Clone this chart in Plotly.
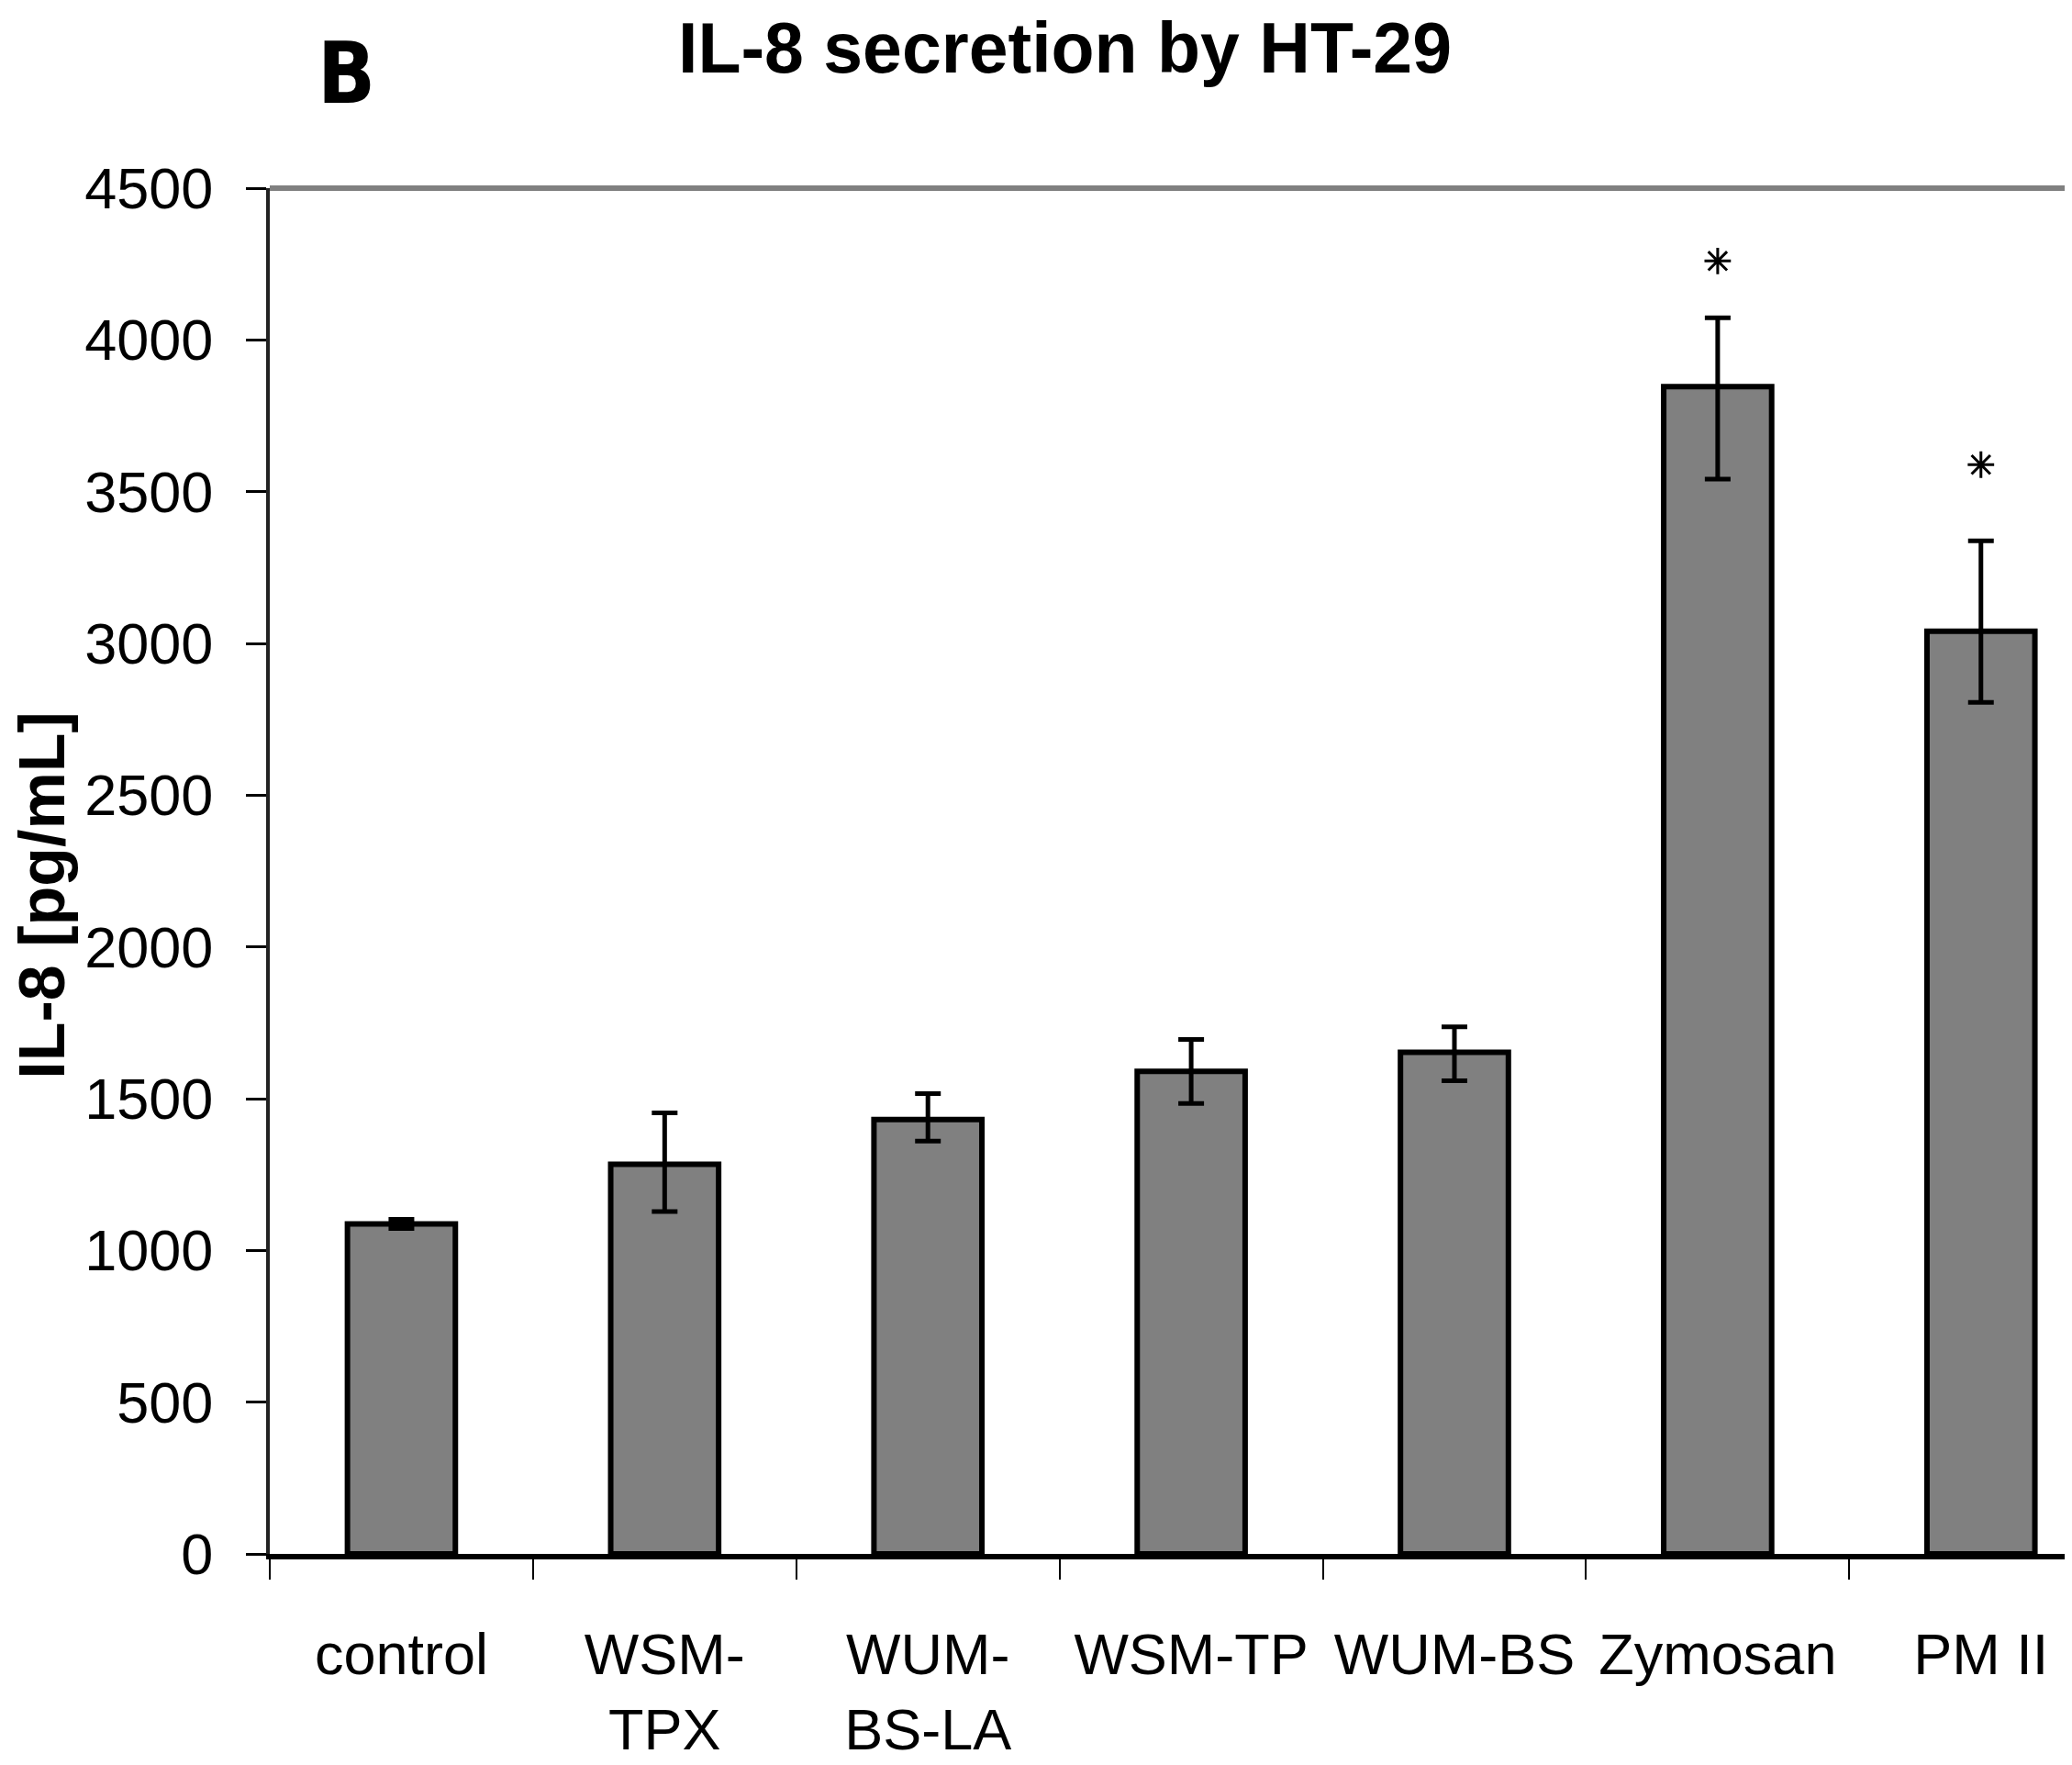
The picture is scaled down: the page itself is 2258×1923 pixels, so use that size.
import plotly.graph_objects as go

categories = ["control", "WSM-<br>TPX", "WUM-<br>BS-LA", "WSM-TP", "WUM-BS", "Zymosan", "PM II"]
means = [1087, 1284, 1431, 1590, 1653, 3846, 3040]
err_plus = [15, 169, 86, 105, 84, 227, 298]
err_minus = [15, 156, 71, 106, 94, 305, 234]
star_y = [4260, 3589]
y_ticks = [0, 500, 1000, 1500, 2000, 2500, 3000, 3500, 4000, 4500]

W, H = 2258, 1923
L, R, T, B = 286, 14, 197, 238

fig = go.Figure()
fig.add_trace(go.Bar(
    x=categories, y=means,
    width=0.41,
    marker=dict(color="#808080", line=dict(color="black", width=6)),
    error_y=dict(type="data", symmetric=False, array=err_plus, arrayminus=err_minus,
                 visible=True, color="black", thickness=5, width=14),
    showlegend=False,
))
fig.add_trace(go.Scatter(
    x=[categories[5], categories[6]], y=star_y, mode="markers",
    marker=dict(symbol="asterisk-open", size=24, color="black", line=dict(color="black", width=3)),
    showlegend=False,
))

fig.add_shape(type="line", xref="paper", yref="paper", x0=0, x1=1, y0=1, y1=1,
              line=dict(color="#808080", width=6))

font_main = "Liberation Sans, Arial, sans-serif"

fig.update_layout(
    width=W, height=H,
    margin=dict(l=L, r=R, t=T, b=B),
    paper_bgcolor="white", plot_bgcolor="white",
    font=dict(family=font_main, color="black", size=62),
    xaxis=dict(
        type="category", categoryorder="array", categoryarray=categories,
        range=[-0.5, 6.325],
        showline=True, linecolor="black", linewidth=6,
        ticks="outside", tickson="boundaries", ticklen=22, tickwidth=2, tickcolor="black",
        tickfont=dict(size=63, family=font_main),
        ticklabelstandoff=49,
        showgrid=False, zeroline=False,
    ),
    yaxis=dict(
        range=[0, 4500], tickvals=y_ticks,
        showline=True, linecolor="#222", linewidth=4,
        ticks="outside", ticklen=22, tickwidth=3, tickcolor="black",
        tickfont=dict(size=63, family=font_main),
        ticklabelstandoff=23,
        showgrid=False, zeroline=False,
    ),
    annotations=[
        dict(text="<b>IL-8 secretion by HT-29</b>", xref="paper", yref="paper",
             x=0.4423, y=1.1026, xanchor="center", yanchor="middle", showarrow=False,
             font=dict(size=77, family=font_main)),
        dict(text="<b>B</b>", xref="paper", yref="paper",
             x=0.0424, y=1.0837, xanchor="center", yanchor="middle", showarrow=False,
             font=dict(size=92, family="Liberation Sans Narrow, DejaVu Sans Condensed, Liberation Sans, sans-serif")),
        dict(text="<b>IL-8 [pg/mL]</b>", xref="paper", yref="paper",
             x=-0.1267, y=0.482, xanchor="center", yanchor="middle", showarrow=False,
             textangle=-90, font=dict(size=70, family=font_main)),
    ],
)

fig.write_html("out.html")
